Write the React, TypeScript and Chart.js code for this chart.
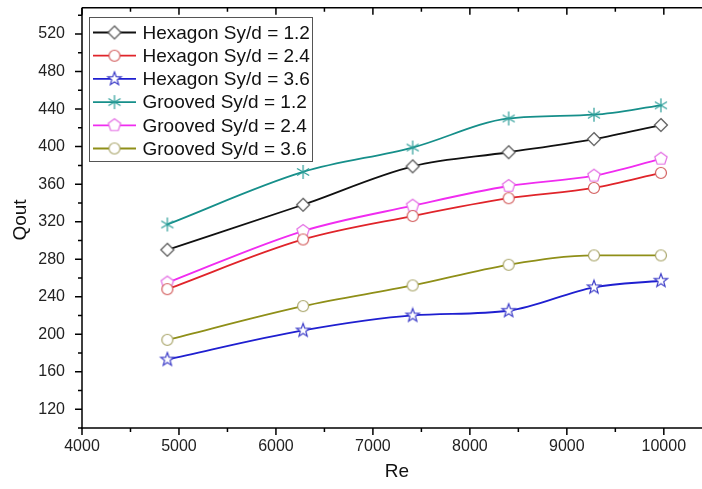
import React, { useEffect, useRef } from 'react';
import { Chart, registerables } from 'chart.js';

Chart.register(...registerables);

// ---- data ----
const reValues = [4880, 6280, 7410, 8400, 9280, 9970];
const hexagon12 = [290, 338, 379, 394, 408, 423];
const hexagon24 = [248, 301, 326, 345, 356, 372];
const hexagon36 = [173, 204, 220, 225, 250, 257];
const grooved12 = [317, 373, 399, 430, 434, 444];
const grooved24 = [255, 310, 337, 358, 369, 387];
const grooved36 = [194, 230, 252, 274, 284, 284];
const seriesLabels = [
  'Hexagon Sy/d = 1.2',
  'Hexagon Sy/d = 2.4',
  'Hexagon Sy/d = 3.6',
  'Grooved Sy/d = 1.2',
  'Grooved Sy/d = 2.4',
  'Grooved Sy/d = 3.6',
];
const yTickValues = [120, 160, 200, 240, 280, 320, 360, 400, 440, 480, 520];
const xTickValues = [4000, 5000, 6000, 7000, 8000, 9000, 10000];
const xTitle = 'Re';
const yTitle = 'Qout';

// ---- styles ----
const seriesData = [hexagon12, hexagon24, hexagon36, grooved12, grooved24, grooved36];
const lineColors = ['#111111', '#e0242a', '#1f1fd0', '#168f8a', '#f02cf0', '#8f8f18'];
const markerColors = ['#555555', '#d25a5a', '#3c3cc8', '#2a9d98', '#e46ee4', '#a8a468'];
const markerKinds = ['diamond', 'circle', 'star', 'asterisk', 'pentagon', 'circle'];
const FONT = '"Liberation Sans", Arial, sans-serif';

function makeMarker(kind: string, color: string): HTMLCanvasElement {
  const c = document.createElement('canvas');
  c.width = 18;
  c.height = 18;
  const g = c.getContext('2d')!;
  g.translate(9, 9);
  g.lineWidth = 1.2;
  g.strokeStyle = color;
  g.fillStyle = '#ffffff';
  g.beginPath();
  if (kind === 'diamond') {
    g.moveTo(0, -6.5);
    g.lineTo(6.5, 0);
    g.lineTo(0, 6.5);
    g.lineTo(-6.5, 0);
    g.closePath();
    g.fill();
    g.stroke();
  } else if (kind === 'circle') {
    g.arc(0, 0, 5.5, 0, Math.PI * 2);
    g.fill();
    g.stroke();
  } else if (kind === 'star') {
    for (let i = 0; i < 10; i++) {
      const r = i % 2 ? 2.9 : 7;
      const a = -Math.PI / 2 + (i * Math.PI) / 5;
      const px = Math.cos(a) * r;
      const py = Math.sin(a) * r;
      if (i === 0) g.moveTo(px, py);
      else g.lineTo(px, py);
    }
    g.closePath();
    g.fill();
    g.stroke();
  } else if (kind === 'pentagon') {
    for (let i = 0; i < 5; i++) {
      const a = -Math.PI / 2 + (i * 2 * Math.PI) / 5;
      const px = Math.cos(a) * 6.5;
      const py = Math.sin(a) * 6.5;
      if (i === 0) g.moveTo(px, py);
      else g.lineTo(px, py);
    }
    g.closePath();
    g.fill();
    g.stroke();
  } else if (kind === 'asterisk') {
    for (let i = 0; i < 3; i++) {
      const a = Math.PI / 2 + (i * Math.PI) / 3;
      g.moveTo(Math.cos(a) * 7, Math.sin(a) * 7);
      g.lineTo(-Math.cos(a) * 7, -Math.sin(a) * 7);
    }
    g.stroke();
  }
  return c;
}

export default function App() {
  const ref = useRef<HTMLCanvasElement | null>(null);

  useEffect(() => {
    if (!ref.current) return;
    const markers = markerKinds.map((k, i) => makeMarker(k, markerColors[i]));

    const framePlugin = {
      id: 'framePlugin',
      afterDraw(chart: any) {
        const ctx = chart.ctx;
        const ca = chart.chartArea;
        const xs = chart.scales.x;
        const ys = chart.scales.y;
        ctx.save();
        ctx.strokeStyle = '#000';
        ctx.lineWidth = 1.5;
        ctx.beginPath();
        ctx.moveTo(ca.left, ca.top);
        ctx.lineTo(ca.right, ca.top);
        ctx.moveTo(ca.left, ca.top);
        ctx.lineTo(ca.left, ca.bottom + 1);
        ctx.moveTo(ca.left - 1, ca.bottom);
        ctx.lineTo(ca.right, ca.bottom);
        ctx.stroke();
        // y ticks (outward, left)
        ctx.beginPath();
        for (let v = 100; v <= 548; v += 20) {
          const y = ys.getPixelForValue(v);
          const major = v % 40 === 0;
          const len = major ? 7 : 4;
          ctx.moveTo(ca.left, y);
          ctx.lineTo(ca.left - len, y);
        }
        // x ticks bottom (outward) and top (inward)
        for (let v = 4000; v <= 10600; v += 500) {
          const x = xs.getPixelForValue(v);
          const major = v % 1000 === 0;
          const len = major ? 7 : 4;
          ctx.moveTo(x, ca.bottom);
          ctx.lineTo(x, ca.bottom + len);
          ctx.moveTo(x, ca.top);
          ctx.lineTo(x, ca.top + len);
        }
        ctx.stroke();

        // axis titles
        ctx.fillStyle = '#111';
        ctx.font = `19px ${FONT}`;
        ctx.textAlign = 'center';
        ctx.textBaseline = 'middle';
        ctx.fillText(xTitle, 397, 472);
        ctx.save();
        ctx.translate(21, 220);
        ctx.rotate(-Math.PI / 2);
        ctx.fillText(yTitle, 0, 0);
        ctx.restore();

        // legend
        const bx = 89;
        const by = 17;
        const bw = 223;
        const bh = 144;
        ctx.fillStyle = '#ffffff';
        ctx.fillRect(bx, by, bw, bh);
        ctx.strokeStyle = '#555';
        ctx.lineWidth = 1;
        ctx.strokeRect(bx + 0.5, by + 0.5, bw, bh);
        ctx.font = `19px ${FONT}`;
        ctx.textAlign = 'left';
        ctx.textBaseline = 'middle';
        for (let i = 0; i < seriesLabels.length; i++) {
          const cy = 32.5 + i * 23.2;
          ctx.strokeStyle = lineColors[i];
          ctx.lineWidth = 1.8;
          ctx.beginPath();
          ctx.moveTo(93, cy);
          ctx.lineTo(136, cy);
          ctx.stroke();
          const m = markers[i];
          ctx.drawImage(m, 114.5 - m.width / 2, cy - m.height / 2);
          ctx.fillStyle = '#111';
          ctx.fillText(seriesLabels[i], 142.5, cy + 1);
        }
        ctx.restore();
      },
    };

    const chart = new Chart(ref.current, {
      type: 'line',
      data: {
        datasets: seriesData.map((arr, i) => ({
          label: seriesLabels[i],
          data: arr.map((y, j) => ({ x: reValues[j], y })),
          borderColor: lineColors[i],
          backgroundColor: lineColors[i],
          borderWidth: 1.8,
          pointStyle: markers[i] as any,
          pointRadius: 6,
          cubicInterpolationMode: 'monotone' as const,
          fill: false,
        })),
      },
      options: {
        responsive: false,
        maintainAspectRatio: false,
        animation: false,
        devicePixelRatio: 1,
        layout: { padding: { top: 7, right: 18, left: 0, bottom: 0 } },
        plugins: {
          legend: { display: false },
          tooltip: { enabled: false },
          title: { display: false },
        },
        scales: {
          x: {
            type: 'linear',
            min: 4000,
            max: 10600,
            grid: { display: false, drawTicks: false },
            border: { display: false },
            afterBuildTicks: (s: any) => {
              s.ticks = xTickValues.map((v) => ({ value: v }));
            },
            afterFit: (s: any) => {
              s.height = 61;
              s.paddingLeft = 0;
              s.paddingRight = 0;
              s.paddingTop = 0;
              s.paddingBottom = 0;
            },
            ticks: {
              autoSkip: false,
              maxRotation: 0,
              padding: 9,
              color: '#222',
              font: { family: FONT, size: 16 },
              callback: (v: any) => String(v),
            },
          },
          y: {
            type: 'linear',
            min: 100,
            max: 548,
            grid: { display: false, drawTicks: false },
            border: { display: false },
            afterBuildTicks: (s: any) => {
              s.ticks = yTickValues.map((v) => ({ value: v }));
            },
            afterFit: (s: any) => {
              s.width = 82;
              s.paddingLeft = 0;
              s.paddingRight = 0;
              s.paddingTop = 0;
              s.paddingBottom = 0;
            },
            ticks: {
              autoSkip: false,
              padding: 17,
              color: '#222',
              font: { family: FONT, size: 16 },
              callback: (v: any) => String(v),
            },
          },
        },
      },
      plugins: [framePlugin],
    });
    return () => chart.destroy();
  }, []);

  return (
    <div
      style={{
        position: 'fixed',
        left: 0,
        top: 0,
        width: 702,
        height: 489,
        overflow: 'hidden',
        background: '#ffffff',
      }}
    >
      <canvas ref={ref} width={740} height={489} style={{ display: 'block' }} />
    </div>
  );
}
